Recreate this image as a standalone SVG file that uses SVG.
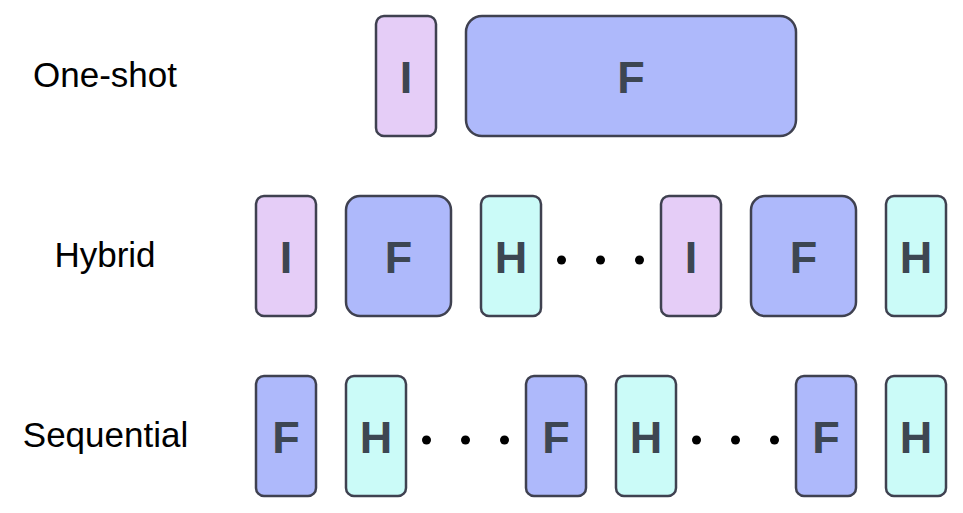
<svg xmlns="http://www.w3.org/2000/svg" width="963" height="513" viewBox="0 0 963 513">
<style>
.box{stroke:#3f4150;stroke-width:2.5}
.i{fill:#e5cdf7}
.f{fill:#aeb9fb}
.h{fill:#cbfbf8}
.lt{font-family:"Liberation Sans",Arial,sans-serif;font-weight:bold;font-size:45px;fill:#3d4652;text-anchor:middle}
.lab{font-family:"Liberation Sans",Arial,sans-serif;font-size:35px;fill:#000;text-anchor:middle}
.dot{fill:#000}
</style>
<rect width="963" height="513" fill="#fff"/>
<g id="labels">
<text class="lab" x="105" y="87">One-shot</text>
<text class="lab" x="105" y="267">Hybrid</text>
<text class="lab" x="105.5" y="447">Sequential</text>
</g>
<g id="oneshot-I"><rect class="box i" x="376" y="16" width="60" height="120" rx="8"/><text class="lt" x="406" y="93">I</text></g>
<g id="oneshot-F"><rect class="box f" x="466" y="16" width="330" height="120" rx="16"/><text class="lt" x="631" y="93">F</text></g>

<g id="hybrid-I1"><rect class="box i" x="256" y="196" width="60" height="120" rx="8"/><text class="lt" x="286" y="273">I</text></g>
<g id="hybrid-F1"><rect class="box f" x="346" y="196" width="105" height="120" rx="14"/><text class="lt" x="398.5" y="273">F</text></g>
<g id="hybrid-H1"><rect class="box h" x="481" y="196" width="60" height="120" rx="8"/><text class="lt" x="511" y="273">H</text></g>
<g id="hybrid-I2"><rect class="box i" x="661" y="196" width="60" height="120" rx="8"/><text class="lt" x="691" y="273">I</text></g>
<g id="hybrid-F2"><rect class="box f" x="751" y="196" width="105" height="120" rx="14"/><text class="lt" x="803.5" y="273">F</text></g>
<g id="hybrid-H2"><rect class="box h" x="886" y="196" width="60" height="120" rx="8"/><text class="lt" x="916" y="273">H</text></g>

<g id="seq-F1"><rect class="box f" x="256" y="376" width="60" height="120" rx="8"/><text class="lt" x="286" y="453">F</text></g>
<g id="seq-H1"><rect class="box h" x="346" y="376" width="60" height="120" rx="8"/><text class="lt" x="376" y="453">H</text></g>
<g id="seq-F2"><rect class="box f" x="526" y="376" width="60" height="120" rx="8"/><text class="lt" x="556" y="453">F</text></g>
<g id="seq-H2"><rect class="box h" x="616" y="376" width="60" height="120" rx="8"/><text class="lt" x="646" y="453">H</text></g>
<g id="seq-F3"><rect class="box f" x="796" y="376" width="60" height="120" rx="8"/><text class="lt" x="826" y="453">F</text></g>
<g id="seq-H3"><rect class="box h" x="886" y="376" width="60" height="120" rx="8"/><text class="lt" x="916" y="453">H</text></g>

<g id="connectors">
<circle class="dot" cx="561.5" cy="260" r="4.5"/>
<circle class="dot" cx="600.5" cy="260" r="4.5"/>
<circle class="dot" cx="639.5" cy="260" r="4.5"/>
<circle class="dot" cx="426.5" cy="440" r="4.5"/>
<circle class="dot" cx="465.5" cy="440" r="4.5"/>
<circle class="dot" cx="504.5" cy="440" r="4.5"/>
<circle class="dot" cx="696.5" cy="440" r="4.5"/>
<circle class="dot" cx="735.5" cy="440" r="4.5"/>
<circle class="dot" cx="774.5" cy="440" r="4.5"/>
</g>
</svg>
